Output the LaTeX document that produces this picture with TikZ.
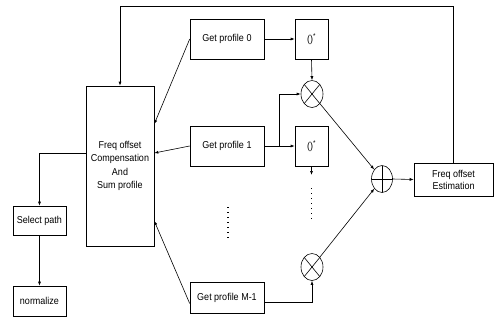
\documentclass[tikz,border=0pt]{standalone}
\usepackage{fontspec}
\setmainfont{Liberation Sans}[FakeStretch=0.9]
\usetikzlibrary{arrows.meta,shapes.geometric}

\begin{document}
\begin{tikzpicture}[
    x=1pt, y=-1pt,
    every path/.style={line width=0.6pt},
    blk/.style={draw, inner sep=0pt, font=\fontsize{10}{12}\selectfont,
                align=center},
    arr/.style={-{Latex[length=4pt,width=3pt]}},
    dots/.style={line width=1.1pt, dash pattern=on 1.1pt off 3.9pt},
    mul/.style={draw, ellipse, inner sep=0pt, minimum width=22pt,
                minimum height=27pt,
                path picture={\draw (path picture bounding box.north west)
                  -- (path picture bounding box.south east)
                  (path picture bounding box.north east)
                  -- (path picture bounding box.south west);}},
    add/.style={draw, ellipse, inner sep=0pt, minimum width=21pt,
                minimum height=27pt,
                path picture={\draw (path picture bounding box.north)
                  -- (path picture bounding box.south)
                  (path picture bounding box.west)
                  -- (path picture bounding box.east);}}
]
  \useasboundingbox (0,0) rectangle (494,324);

  % Compensation block
  \node[blk, minimum width=68pt, minimum height=160pt,
        font=\fontsize{10}{13.5}\selectfont] (comp) at (120,166)
       {Freq offset\\Compensation\\And\\Sum profile};

  % Profiles
  \node[blk, minimum width=74pt, minimum height=40pt] (gp0) at (227,39)  {Get profile 0};
  \node[blk, minimum width=74pt, minimum height=40pt] (gp1) at (227,146) {Get profile 1};
  \node[blk, minimum width=74pt, minimum height=31pt] (gpM) at (227,297.5) {Get profile M-1};

  % Conjugates
  \node[blk, minimum width=33pt, minimum height=40pt] (conj0) at (311.5,39)  {()\textsuperscript{*}};
  \node[blk, minimum width=33pt, minimum height=40pt] (conj1) at (311.5,146) {()\textsuperscript{*}};

  % Multipliers and sum
  \node[mul] (mul0) at (312,94)  {};
  \node[mul] (mulM) at (312,267) {};
  \node[add] (sum)  at (382,179) {};

  % Estimation
  \node[blk, minimum width=79pt, minimum height=33pt] (est) at (453.5,179.5)
       {Freq offset\\Estimation};

  % Output chain
  \node[blk, minimum width=53pt, minimum height=29pt] (sel)  at (39.5,220.5) {Select path};
  \node[blk, minimum width=53pt, minimum height=30pt] (norm) at (39.5,301)   {normalize};

  % Feedback
  \coordinate (fb) at (120,6);
  \draw[arr] (est.north) |- (fb) -- (comp.north);

  % Profiles into compensation
  \draw[arr] (gp0.west) -- ([yshift=42pt]comp.east);
  \draw[arr] (gp1.west) -- ([yshift=13pt]comp.east);
  \draw[arr] ([yshift=-6pt]gpM.west) -- ([yshift=-55pt]comp.east);

  % Branch 0
  \draw[arr] (gp0.east) -- (conj0.west);
  \draw[arr] (conj0.south) -- (mul0.north);

  % Branch 1
  \coordinate (br1) at (279,146);
  \draw[arr] (gp1.east) -- (conj1.west);
  \draw[arr] (br1) |- (mul0.west);
  \coordinate (c1end) at (311.5,175);
  \draw[arr] (conj1.south) -- (c1end);
  \draw[dots] (311.5,188) -- (311.5,219);

  % dots
  \draw[dots] (228,207) -- (228,238);

  % Branch M-1
  \draw[arr] ([yshift=-4.5pt]gpM.east) -| (mulM.south);

  % Sum
  \draw[arr] (mul0) -- (sum);
  \draw[arr] (mulM) -- (sum);
  \draw[arr] (sum.east) -- (est.west);

  % Output chain
  \draw[arr] ([yshift=13pt]comp.west) -| (sel.north);
  \draw[arr] (sel.south) -- (norm.north);
\end{tikzpicture}
\end{document}
